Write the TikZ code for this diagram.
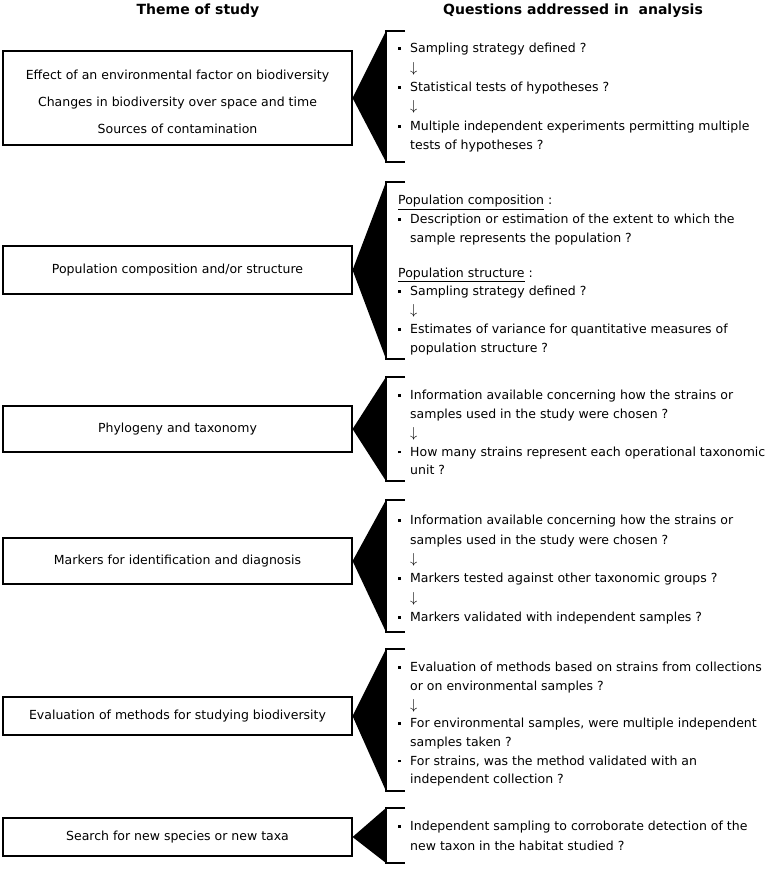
\documentclass[tikz,border=0pt]{standalone}
\usepackage{fontspec}
\setmainfont{DejaVu Sans}
\usetikzlibrary{positioning}

\newcommand{\bul}{\makebox[12pt][l]{\rule[2.8pt]{2.8pt}{2.8pt}}}
\newcommand{\ind}{\hspace*{12pt}}
\newcommand{\dnarrow}{\ind{\fontsize{15}{15}\selectfont$\downarrow$}}

\begin{document}
\begin{tikzpicture}[x=1pt, y=-1pt,
            theme/.style={draw, line width=1.1pt, minimum width=349pt, align=center, inner sep=0pt, font=\fontsize{12.5}{27}\selectfont},
            questions/.style={anchor=north west, inner sep=0pt, align=left, font=\fontsize{12.5}{19.4}\selectfont},
            header/.style={font=\bfseries\fontsize{14}{16}\selectfont},
            bracket/.style={line width=2pt},
            wedge/.style={fill=black}
        ]
        \useasboundingbox (0,0) rectangle (767,871);

        % Column headers
        \node[header] (hdtheme) at (198,11) {Theme of study};
        \node[header] (hdquest) at (573,11) {Questions addressed in\ \ analysis};

        % Themes of study
        \node[theme, minimum height=94pt] (th1) at (177.5,98) {\rule{0pt}{17pt}Effect of an environmental factor on biodiversity\\Changes in biodiversity over space and time\\Sources of contamination};
        \node[theme, minimum height=48pt] (th2) at (177.5,270) {Population composition and/or structure};
        \node[theme, minimum height=46pt] (th3) at (177.5,429) {Phylogeny and taxonomy};
        \node[theme, minimum height=46pt] (th4) at (177.5,561) {Markers for identification and diagnosis};
        \node[theme, minimum height=38pt] (th5) at (177.5,716) {Evaluation of methods for studying biodiversity};
        \node[theme, minimum height=38pt] (th6) at (177.5,837) {Search for new species or new taxa};

        % Bracket ends
        \coordinate (b1t) at (386,31);  \coordinate (b1b) at (386,162);
        \coordinate (b2t) at (386,182); \coordinate (b2b) at (386,359);
        \coordinate (b3t) at (386,377); \coordinate (b3b) at (386,481);
        \coordinate (b4t) at (386,500); \coordinate (b4b) at (386,632);
        \coordinate (b5t) at (386,649); \coordinate (b5b) at (386,791);
        \coordinate (b6t) at (386,808); \coordinate (b6b) at (386,863);

        % Questions addressed
        \node[questions] (q1) at (398,43) {\bul Sampling strategy defined ?\\
            \dnarrow\\
            \bul Statistical tests of hypotheses ?\\
            \dnarrow\\
            \bul Multiple independent experiments permitting multiple\\
            \ind tests of hypotheses ?};
        \node[questions, font=\fontsize{12.5}{18.8}\selectfont] (q2) at (398,195) {\underline{Population composition} :\\
            \bul Description or estimation of the extent to which the\\
            \ind sample represents the population ?\\[16pt]
            \underline{Population structure} :\\
            \bul Sampling strategy defined ?\\
            \dnarrow\\
            \bul Estimates of variance for quantitative measures of\\
            \ind population structure ?};
        \node[questions, font=\fontsize{12.5}{18.8}\selectfont] (q3) at (398,390) {\bul Information available concerning how the strains or\\
            \ind samples used in the study were chosen ?\\
            \dnarrow\\
            \bul How many strains represent each operational taxonomic\\
            \ind unit ?};
        \node[questions] (q4) at (398,515) {\bul Information available concerning how the strains or\\
            \ind samples used in the study were chosen ?\\
            \dnarrow\\
            \bul Markers tested against other taxonomic groups ?\\
            \dnarrow\\
            \bul Markers validated with independent samples ?};
        \node[questions, font=\fontsize{12.5}{18.7}\selectfont] (q5) at (398,662) {\bul Evaluation of methods based on strains from collections\\
            \ind or on environmental samples ?\\
            \dnarrow\\
            \bul For environmental samples, were multiple independent\\
            \ind samples taken ?\\
            \bul For strains, was the method validated with an\\
            \ind independent collection ?};
        \node[questions] (q6) at (398,821) {\bul Independent sampling to corroborate detection of the\\
            \ind new taxon in the habitat studied ?};

        % Wedges from themes to brackets
        \fill[wedge] (th1.east) -- (b1t) -- (b1b) -- cycle;
        \fill[wedge] (th2.east) -- (b2t) -- (b2b) -- cycle;
        \fill[wedge] (th3.east) -- (b3t) -- (b3b) -- cycle;
        \fill[wedge] (th4.east) -- (b4t) -- (b4b) -- cycle;
        \fill[wedge] (th5.east) -- (b5t) -- (b5b) -- cycle;
        \fill[wedge] (th6.east) -- (b6t) -- (b6b) -- cycle;

        % Brackets
        \draw[bracket] ([xshift=19pt]b1t) -- (b1t) -- (b1b) -- ([xshift=19pt]b1b);
        \draw[bracket] ([xshift=19pt]b2t) -- (b2t) -- (b2b) -- ([xshift=19pt]b2b);
        \draw[bracket] ([xshift=19pt]b3t) -- (b3t) -- (b3b) -- ([xshift=19pt]b3b);
        \draw[bracket] ([xshift=19pt]b4t) -- (b4t) -- (b4b) -- ([xshift=19pt]b4b);
        \draw[bracket] ([xshift=19pt]b5t) -- (b5t) -- (b5b) -- ([xshift=19pt]b5b);
        \draw[bracket] ([xshift=19pt]b6t) -- (b6t) -- (b6b) -- ([xshift=19pt]b6b);
    \end{tikzpicture}
\end{document}
